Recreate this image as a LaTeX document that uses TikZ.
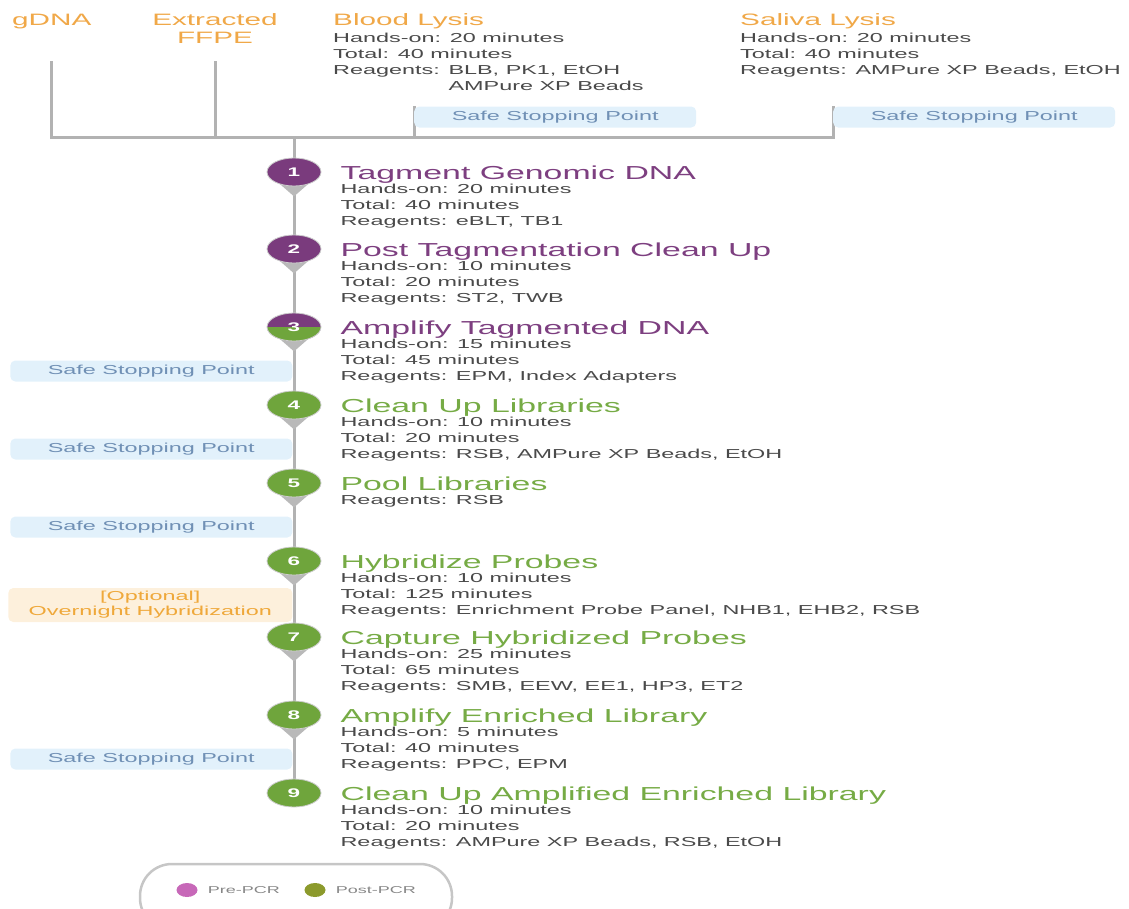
\documentclass[tikz,border=0pt]{standalone}
\usepackage{fontspec}
\usepackage{xcolor}
\usepackage{tikz}
\usetikzlibrary{positioning, shapes.geometric, backgrounds}

\newfontfamily\widesans[FakeStretch=1.8]{Liberation Sans}

\definecolor{prepcr}{HTML}{7A3B7D}
\definecolor{pretitle}{HTML}{7D3F80}
\definecolor{postpcr}{HTML}{6FA53C}
\definecolor{posttitle}{HTML}{76AB45}
\definecolor{lysis}{HTML}{F0A848}
\definecolor{bodygray}{HTML}{4A4A4A}
\definecolor{spinegray}{HTML}{B2B2B2}
\definecolor{sspfill}{HTML}{E2F1FB}
\definecolor{ssptext}{HTML}{7090B5}
\definecolor{optfill}{HTML}{FDF0DC}
\definecolor{opttext}{HTML}{EFA83A}
\definecolor{legpink}{HTML}{C768B8}
\definecolor{legolive}{HTML}{8C9A2C}

\newcommand{\steptitle}[2]{{\color{#1}\fontsize{18.8}{20}\selectfont #2}}
\newcommand{\headtitle}[1]{{\color{lysis}\fontsize{16.5}{18}\selectfont #1}}

\tikzset{
  spine/.style={draw=spinegray, line width=3pt},
  pointer/.style={fill=gray!55},
  stepdot/.style={ellipse, minimum width=54pt, minimum height=28pt, inner sep=0pt,
    draw=gray!40, line width=0.8pt, text=white,
    font=\widesans\bfseries\fontsize{12.5}{12.5}\selectfont},
  steptext/.style={align=left, inner sep=0pt, text=bodygray,
    font=\widesans\fontsize{13}{16}\selectfont},
  headtext/.style={inner sep=0pt, text=lysis, font=\widesans\fontsize{16.5}{18}\selectfont},
  sspbox/.style={fill=sspfill, rounded corners=5pt, minimum width=282pt, minimum height=21pt,
    inner sep=0pt, text=ssptext, font=\widesans\fontsize{13}{15}\selectfont},
  optbox/.style={fill=optfill, rounded corners=5pt, minimum width=284pt, minimum height=34pt,
    inner sep=0pt, align=center, text=opttext, font=\widesans\fontsize{13}{15}\selectfont},
  legdot/.style={ellipse, minimum width=21pt, minimum height=14pt, inner sep=0pt},
  legtext/.style={inner sep=0pt, text=gray!95, font=\widesans\fontsize{10}{12}\selectfont}
}

\begin{document}
\begin{tikzpicture}[x=1pt, y=-1pt]
    \useasboundingbox (0,0) rectangle (1129,908);

    % Starting material
    \node[headtext, anchor=base west] (gdna) at (12,25) {gDNA};
    \node[headtext, align=center, anchor=north] (ffpe) at (215,13.2) {Extracted\\FFPE};
    \node[steptext, anchor=north west] (blood) at (333,13.2) {\headtitle{Blood Lysis}\\[0.7pt]
        Hands-on: 20 minutes\\ Total: 40 minutes\\ Reagents: BLB, PK1, EtOH\\
        \phantom{Reagents: }AMPure XP Beads};
    \node[steptext, anchor=north west] (saliva) at (740,13.2) {\headtitle{Saliva Lysis}\\[0.7pt]
        Hands-on: 20 minutes\\ Total: 40 minutes\\ Reagents: AMPure XP Beads, EtOH};

    % Safe stopping points after lysis
    \node[sspbox, anchor=west] (ssp1) at (414,117) {Safe Stopping Point};
    \node[sspbox, anchor=west] (ssp2) at (833,117) {Safe Stopping Point};

    % Steps
    \node[stepdot, fill=prepcr] (c1) at (294,172) {1};
    \node[steptext, below right=-6.7pt and 19pt of c1.east] (s1) {\steptitle{pretitle}{Tagment Genomic DNA}\\[-2pt]
        Hands-on: 20 minutes\\ Total: 40 minutes\\ Reagents: eBLT, TB1};

    \node[stepdot, fill=prepcr] (c2) at (294,249) {2};
    \node[steptext, below right=-6.7pt and 19pt of c2.east] (s2) {\steptitle{pretitle}{Post Tagmentation Clean Up}\\[-2pt]
        Hands-on: 10 minutes\\ Total: 20 minutes\\ Reagents: ST2, TWB};

    \node[stepdot, fill=prepcr, path picture={\fill[postpcr] (path picture bounding box.west)
        rectangle (path picture bounding box.south east);}] (c3) at (294,327) {3};
    \node[steptext, below right=-6.7pt and 19pt of c3.east] (s3) {\steptitle{pretitle}{Amplify Tagmented DNA}\\[-2pt]
        Hands-on: 15 minutes\\ Total: 45 minutes\\ Reagents: EPM, Index Adapters};

    \node[stepdot, fill=postpcr] (c4) at (294,405) {4};
    \node[steptext, below right=-6.7pt and 19pt of c4.east] (s4) {\steptitle{posttitle}{Clean Up Libraries}\\[-2pt]
        Hands-on: 10 minutes\\ Total: 20 minutes\\ Reagents: RSB, AMPure XP Beads, EtOH};

    \node[stepdot, fill=postpcr] (c5) at (294,483) {5};
    \node[steptext, below right=-6.7pt and 19pt of c5.east] (s5) {\steptitle{posttitle}{Pool Libraries}\\[-2pt]
        Reagents: RSB};

    \node[stepdot, fill=postpcr] (c6) at (294,561) {6};
    \node[steptext, below right=-6.7pt and 19pt of c6.east] (s6) {\steptitle{posttitle}{Hybridize Probes}\\[-2pt]
        Hands-on: 10 minutes\\ Total: 125 minutes\\ Reagents: Enrichment Probe Panel, NHB1, EHB2, RSB};

    \node[stepdot, fill=postpcr] (c7) at (294,637) {7};
    \node[steptext, below right=-6.7pt and 19pt of c7.east] (s7) {\steptitle{posttitle}{Capture Hybridized Probes}\\[-2pt]
        Hands-on: 25 minutes\\ Total: 65 minutes\\[0.5pt] Reagents: SMB, EEW, EE1, HP3, ET2};

    \node[stepdot, fill=postpcr] (c8) at (294,715) {8};
    \node[steptext, below right=-6.7pt and 19pt of c8.east] (s8) {\steptitle{posttitle}{Amplify Enriched Library}\\[-2pt]
        Hands-on: 5 minutes\\ Total: 40 minutes\\ Reagents: PPC, EPM};

    \node[stepdot, fill=postpcr] (c9) at (294,793) {9};
    \node[steptext, below right=-6.7pt and 19pt of c9.east] (s9) {\steptitle{posttitle}{Clean Up Amplified Enriched Library}\\[-2pt]
        Hands-on: 10 minutes\\ Total: 20 minutes\\ Reagents: AMPure XP Beads, RSB, EtOH};

    % Stopping points along the workflow
    \node[sspbox, anchor=east] (ssp3) at (292.5,371) {Safe Stopping Point};
    \node[sspbox, anchor=east] (ssp4) at (292.5,449) {Safe Stopping Point};
    \node[sspbox, anchor=east] (ssp5) at (292.5,527) {Safe Stopping Point};
    \node[optbox, anchor=east] (opt) at (292.5,605) {[Optional]\\Overnight Hybridization};
    \node[sspbox, anchor=east] (ssp6) at (292.5,759) {Safe Stopping Point};

    % Legend
    \node[draw=gray!45, line width=2.5pt, rounded corners=32pt, minimum width=312pt,
        minimum height=66pt] (legend) at (296,897) {};
    \node[legdot, fill=legpink] (predot) at (187,890) {};
    \node[legtext, right=10pt of predot] (prelbl) {Pre-PCR};
    \node[legdot, fill=legolive] (postdot) at (315,890) {};
    \node[legtext, right=10pt of postdot] (postlbl) {Post-PCR};

    % Lines behind the steps
    \begin{scope}[on background layer]
        \coordinate (hub) at (294,137);
        \draw[spine] (ssp2.north west) |- (gdna.south |- hub) -- ++(0,-76);
        \draw[spine] (ffpe.south |- hub) -- ++(0,-76);
        \draw[spine] (ssp1.north west) -- (ssp1.north west |- hub);
        \draw[spine] (hub) -- (c1);
        \foreach \a/\b in {1/2, 2/3, 3/4, 4/5, 5/6, 6/7, 7/8, 8/9}
            \draw[spine] (c\a) -- (c\b);
        \foreach \n in {1,...,8}
            \fill[pointer] ([xshift=-16pt, yshift=4pt]c\n.south) -- ([xshift=16pt, yshift=4pt]c\n.south)
                -- ([yshift=-10pt]c\n.south) -- cycle;
    \end{scope}
\end{tikzpicture}
\end{document}
